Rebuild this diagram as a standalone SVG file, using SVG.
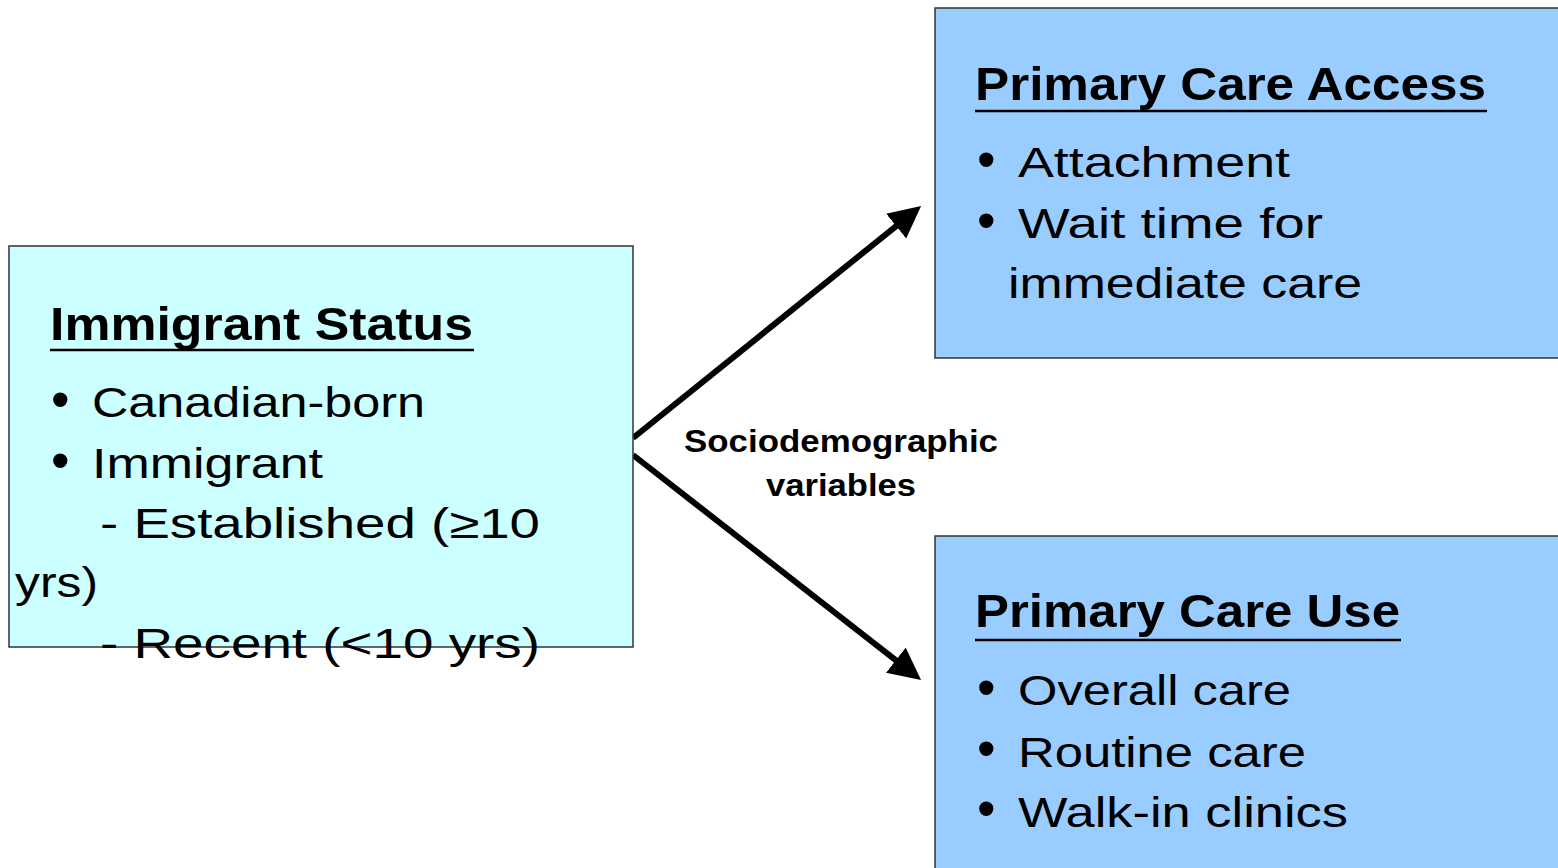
<svg xmlns="http://www.w3.org/2000/svg" width="1558" height="868" viewBox="0 0 1558 868">
<defs>
<style>
.box{stroke:#333333;stroke-width:1.5}
.t{font-family:"Liberation Sans Narrow","Liberation Sans",Arial,sans-serif;fill:#000}
.h{font-size:46px;font-weight:bold}
.b{font-size:42px}
.bul{font-family:"Liberation Sans",Arial,sans-serif;font-size:53px;fill:#000}
.ul{stroke:#000;stroke-width:2.5}
.lbl{font-family:"Liberation Sans",Arial,sans-serif;font-size:32px;font-weight:bold;fill:#000;text-anchor:middle}
.con{stroke:#000;stroke-width:6;fill:none}
</style>
<marker id="ah" markerUnits="userSpaceOnUse" markerWidth="34" markerHeight="34" refX="12" refY="16" orient="auto">
<path d="M0,0 L32,16 L0,32 z" fill="#000"/>
</marker>
</defs>
<rect width="1558" height="868" fill="#fff"/>

<g id="connectors">
<line class="con" x1="633" y1="438" x2="905.5" y2="218.6" marker-end="url(#ah)"/>
<line class="con" x1="633" y1="455" x2="905.3" y2="667.6" marker-end="url(#ah)"/>
<text class="lbl" x="841" y="452" textLength="314" lengthAdjust="spacingAndGlyphs">Sociodemographic</text>
<text class="lbl" x="841" y="496" textLength="150" lengthAdjust="spacingAndGlyphs">variables</text>
</g>

<g id="immigrant-status">
<rect class="box" x="9" y="246" width="624" height="401" fill="#CCFFFF"/>
<text class="t h" x="50" y="340" textLength="423" lengthAdjust="spacingAndGlyphs">Immigrant Status</text>
<line class="ul" x1="50" y1="350" x2="474" y2="350"/>
<text class="bul" x="51" y="418">•</text>
<text class="bul" x="51" y="479">•</text>
<text class="t b" x="92" y="417" textLength="333" lengthAdjust="spacingAndGlyphs">Canadian-born</text>
<text class="t b" x="92" y="478" textLength="231" lengthAdjust="spacingAndGlyphs">Immigrant</text>
<text class="t b" x="100" y="538" textLength="440" lengthAdjust="spacingAndGlyphs">- Established (≥10</text>
<text class="t b" x="15" y="597" textLength="83" lengthAdjust="spacingAndGlyphs">yrs)</text>
<text class="t b" x="100" y="658" textLength="440" lengthAdjust="spacingAndGlyphs">- Recent (&lt;10 yrs)</text>
</g>

<g id="primary-care-access">
<rect class="box" x="935" y="8" width="700" height="350" fill="#99CCFF"/>
<text class="t h" x="975" y="100" textLength="511" lengthAdjust="spacingAndGlyphs">Primary Care Access</text>
<line class="ul" x1="975" y1="111" x2="1487" y2="111"/>
<text class="bul" x="977" y="178">•</text>
<text class="bul" x="977" y="239">•</text>
<text class="t b" x="1018" y="177" textLength="272" lengthAdjust="spacingAndGlyphs">Attachment</text>
<text class="t b" x="1018" y="238" textLength="305" lengthAdjust="spacingAndGlyphs">Wait time for</text>
<text class="t b" x="1008" y="298" textLength="354" lengthAdjust="spacingAndGlyphs">immediate care</text>
</g>

<g id="primary-care-use">
<rect class="box" x="935" y="536" width="700" height="400" fill="#99CCFF"/>
<text class="t h" x="975" y="627" textLength="425" lengthAdjust="spacingAndGlyphs">Primary Care Use</text>
<line class="ul" x1="975" y1="640" x2="1401" y2="640"/>
<text class="bul" x="977" y="706">•</text>
<text class="bul" x="977" y="767">•</text>
<text class="bul" x="977" y="827">•</text>
<text class="t b" x="1018" y="705" textLength="273" lengthAdjust="spacingAndGlyphs">Overall care</text>
<text class="t b" x="1018" y="767" textLength="288" lengthAdjust="spacingAndGlyphs">Routine care</text>
<text class="t b" x="1018" y="827" textLength="330" lengthAdjust="spacingAndGlyphs">Walk-in clinics</text>
</g>
</svg>
